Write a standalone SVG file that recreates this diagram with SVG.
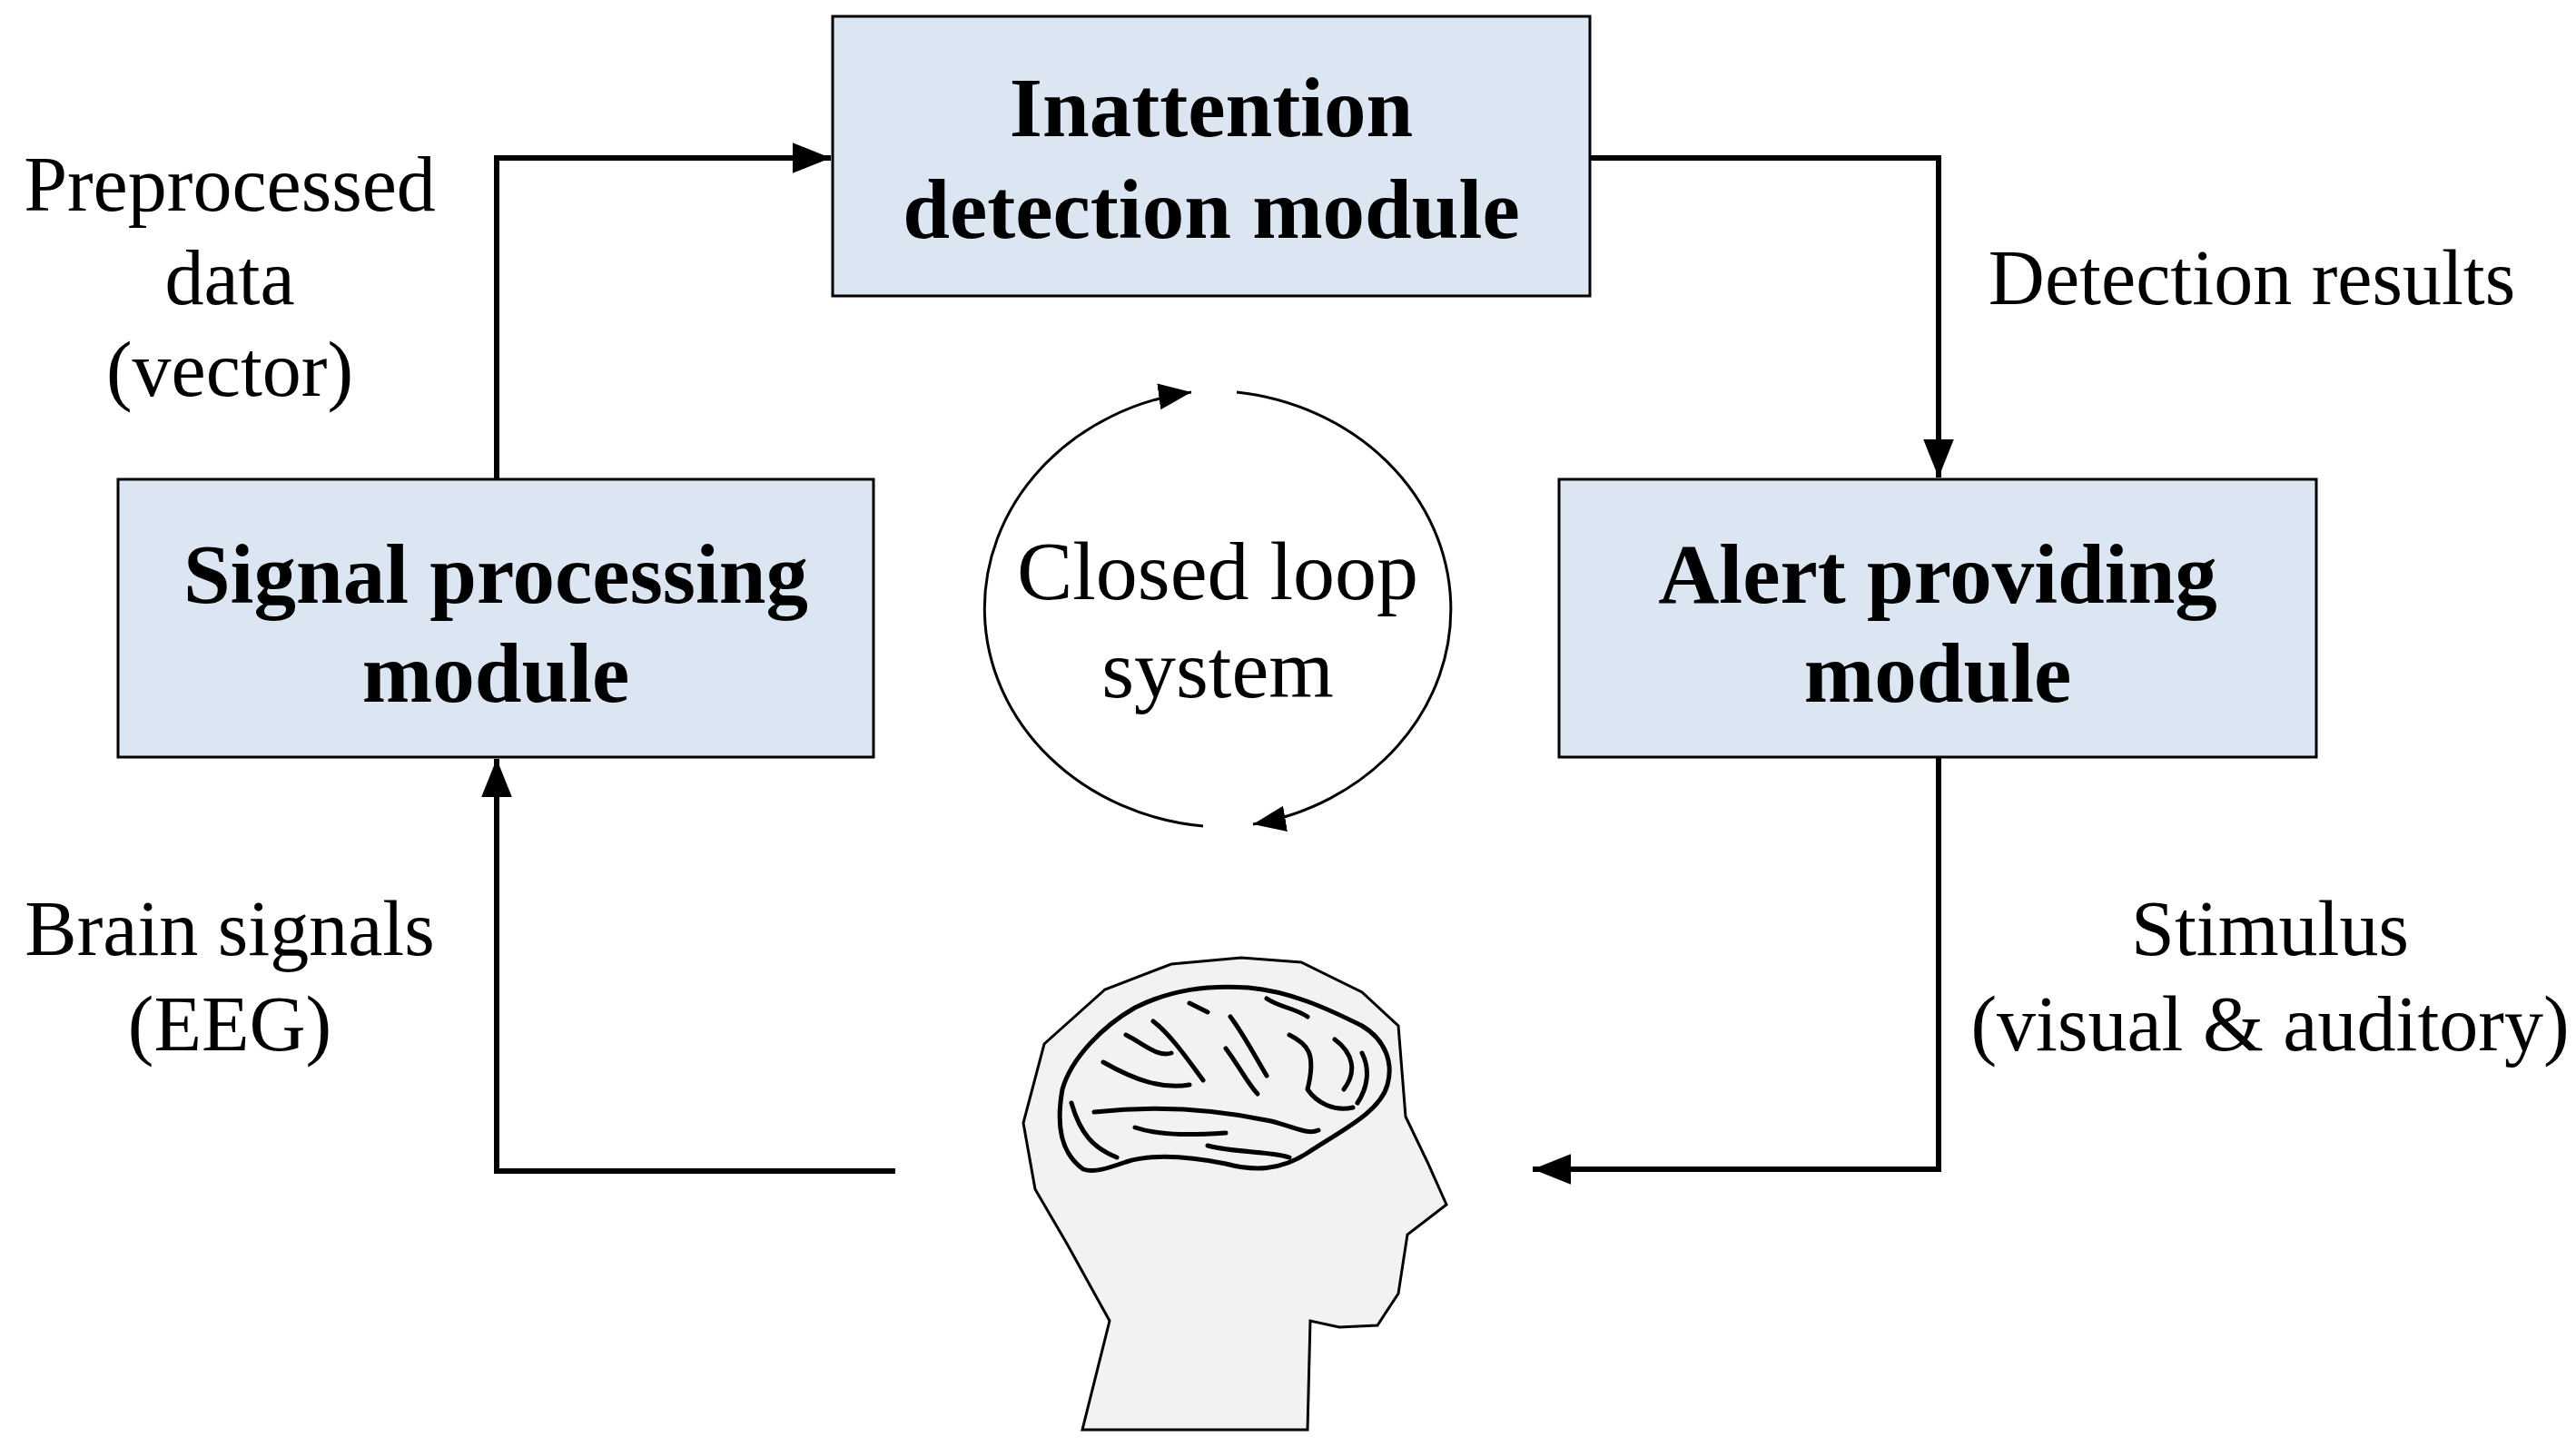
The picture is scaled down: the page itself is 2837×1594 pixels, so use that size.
<svg xmlns="http://www.w3.org/2000/svg" width="2837" height="1594" viewBox="0 0 2837 1594">
<style>
.box{fill:#dce6f2;stroke:#000;stroke-width:3}
.t{font-family:"Liberation Serif","Times New Roman",serif;font-weight:bold;font-size:93px;text-anchor:middle}
.l{font-family:"Liberation Serif","Times New Roman",serif;font-size:86px;text-anchor:middle}
.cl{font-family:"Liberation Serif","Times New Roman",serif;font-size:92px;text-anchor:middle}
.c{fill:none;stroke:#000;stroke-width:6}
.thin{fill:none;stroke:#000;stroke-width:3}
.br{fill:none;stroke:#000;stroke-width:5;stroke-linecap:round;stroke-linejoin:round}
</style>
<defs>
<marker id="a" viewBox="0 0 10 10" refX="10" refY="5" markerWidth="7" markerHeight="7" markerUnits="strokeWidth" orient="auto"><path d="M0,1L10,5L0,9z"/></marker>
<marker id="b" viewBox="0 0 10 10" refX="10" refY="5" markerWidth="12" markerHeight="12" markerUnits="strokeWidth" orient="auto"><path d="M0,1L10,5L0,9z"/></marker>
</defs>
<rect width="2837" height="1594" fill="#fff"/>
<g id="connectors">
<path class="c" d="M547,528V174H915" marker-end="url(#a)"/>
<path class="c" d="M1751,174H2135V526" marker-end="url(#a)"/>
<path class="c" d="M2135,834V1288H1688" marker-end="url(#a)"/>
<path class="c" d="M986,1290H547V836" marker-end="url(#a)"/>
<path class="thin" d="M1362,432A268,241 0 0 1 1380,908" marker-end="url(#b)"/>
<path class="thin" d="M1325,910A268,241 0 0 1 1312,432" marker-end="url(#b)"/>
</g>
<g id="inattention"><rect class="box" x="917" y="18" width="834" height="308"/>
<text class="t" x="1334" y="150">Inattention</text><text class="t" x="1334" y="262">detection module</text></g>
<g id="signal"><rect class="box" x="130" y="528" width="832" height="306"/>
<text class="t" x="546" y="664">Signal processing</text><text class="t" x="546" y="773">module</text></g>
<g id="alert"><rect class="box" x="1717" y="528" width="834" height="306"/>
<text class="t" x="2134" y="664">Alert providing</text><text class="t" x="2134" y="773">module</text></g>
<g id="loop"><text class="cl" x="1341" y="660">Closed loop</text><text class="cl" x="1341" y="768">system</text></g>
<g id="labels">
<text class="l" x="253" y="232">Preprocessed</text><text class="l" x="253" y="335">data</text><text class="l" x="253" y="436">(vector)</text>
<text class="l" x="2480" y="335">Detection results</text>
<text class="l" x="253" y="1052">Brain signals</text><text class="l" x="253" y="1157">(EEG)</text>
<text class="l" x="2500" y="1052">Stimulus</text><text class="l" x="2500" y="1157">(visual &amp; auditory)</text>
</g>
<g id="head">
<path d="M1192,1575L1222,1455L1175,1370L1140,1310L1127,1237L1150,1150L1217,1090L1290,1062L1367,1055L1433,1060L1500,1093L1540,1130L1548,1230L1572,1280L1593,1327L1550,1360L1540,1425L1517,1460L1475,1462L1443,1455L1440,1575Z" fill="#f2f2f2" stroke="#000" stroke-width="3"/>
<path class="br" d="M1193,1288C1168,1270 1163,1240 1170,1200C1180,1165 1215,1130 1250,1110C1290,1090 1330,1085 1375,1088C1420,1092 1460,1110 1500,1130C1525,1145 1535,1170 1528,1195C1520,1225 1478,1245 1440,1270C1410,1290 1380,1290 1350,1282C1300,1272 1265,1272 1240,1280C1220,1287 1205,1292 1193,1288Z"/>
<path class="br" d="M1205,1225C1250,1220 1320,1218 1400,1235C1430,1243 1440,1250 1452,1245"/>
<path class="br" d="M1250,1242C1280,1252 1320,1250 1350,1248M1330,1262C1360,1270 1400,1268 1420,1275"/>
<path class="br" d="M1215,1170C1250,1190 1280,1200 1310,1195M1240,1140C1260,1150 1275,1165 1290,1160M1270,1125C1290,1140 1310,1170 1325,1190"/>
<path class="br" d="M1355,1120C1370,1140 1380,1160 1395,1185M1350,1155C1365,1175 1375,1195 1385,1205M1420,1140C1440,1150 1450,1160 1440,1200C1450,1215 1470,1225 1490,1220"/>
<path class="br" d="M1470,1145C1490,1160 1495,1180 1480,1200M1500,1160C1510,1180 1505,1200 1495,1215M1180,1215C1190,1250 1205,1265 1230,1275"/>
<path class="br" d="M1310,1105L1330,1115M1395,1100C1410,1110 1425,1110 1440,1120"/>
</g>
</svg>
